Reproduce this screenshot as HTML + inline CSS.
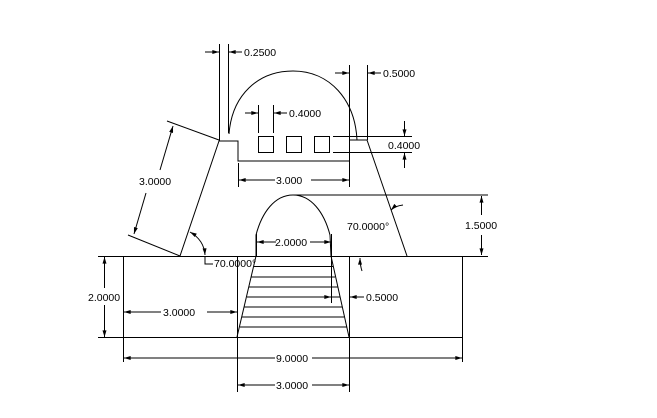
<!DOCTYPE html>
<html><head><meta charset="utf-8"><style>
html,body{margin:0;padding:0;background:#fff;}
svg{display:block;}
text{font-family:"Liberation Sans",Arial,sans-serif;font-size:10.5px;fill:#000;}
</style></head><body>
<svg width="657" height="418" viewBox="0 0 657 418" xmlns="http://www.w3.org/2000/svg">
<defs>
<marker id="a" viewBox="0 0 10 6" refX="10" refY="3" markerWidth="7" markerHeight="4" orient="auto-start-reverse" markerUnits="userSpaceOnUse"><path d="M0,0 L10,3 L0,6 z" fill="#000"/></marker>
</defs>
<g stroke="#000" stroke-width="1" fill="none">
<!-- top structure -->
<line x1="219.5" y1="44" x2="219.5" y2="141"/>
<line x1="228.5" y1="44" x2="228.5" y2="133"/>
<polyline points="180,256 219,141 238,141 238,161 349,161"/>
<line x1="349.5" y1="65" x2="349.5" y2="187"/>
<line x1="367.5" y1="65" x2="367.5" y2="140"/>
<polyline points="349,140 367,140 407,256"/>
<path d="M229,134 C232,95 258,71 293,71 C330,71 355,100 357,140"/>
<!-- squares -->
<rect x="258.5" y="136.5" width="15" height="16"/>
<rect x="286.5" y="136.5" width="15" height="16"/>
<rect x="314.5" y="136.5" width="15" height="16"/>
<!-- 0.4000 top -->
<line x1="258.5" y1="105" x2="258.5" y2="133"/>
<line x1="273.5" y1="105" x2="273.5" y2="133"/>
<line x1="245" y1="113" x2="258" y2="113" marker-end="url(#a)"/>
<line x1="287" y1="113" x2="274" y2="113" marker-end="url(#a)"/>
<!-- 0.4000 right -->
<line x1="333" y1="136.5" x2="412" y2="136.5"/>
<line x1="333" y1="152.5" x2="412" y2="152.5"/>
<line x1="404.5" y1="121" x2="404.5" y2="136" marker-end="url(#a)"/>
<line x1="404.5" y1="168" x2="404.5" y2="153" marker-end="url(#a)"/>
<!-- 0.5000 -->
<line x1="335" y1="73" x2="349" y2="73" marker-end="url(#a)"/>
<line x1="381" y1="73" x2="368" y2="73" marker-end="url(#a)"/>
<!-- 0.2500 -->
<line x1="205" y1="52" x2="219" y2="52" marker-end="url(#a)"/>
<line x1="242" y1="52" x2="229" y2="52" marker-end="url(#a)"/>
<!-- 3.000 -->
<line x1="238.5" y1="163" x2="238.5" y2="187"/>
<line x1="275" y1="180" x2="239" y2="180" marker-end="url(#a)"/>
<line x1="311" y1="180" x2="349" y2="180" marker-end="url(#a)"/>
<!-- 3.0000 slanted -->
<line x1="167" y1="121" x2="219" y2="140"/>
<line x1="128" y1="235" x2="180" y2="256"/>
<line x1="160" y1="170" x2="173" y2="126" marker-end="url(#a)"/>
<line x1="146" y1="193" x2="134" y2="234" marker-end="url(#a)"/>
<!-- left 70 -->
<path d="M190,232 Q204,240 205,255" marker-start="url(#a)" marker-end="url(#a)"/>
<polyline points="205,256 205,264 213,264"/>
<!-- base -->
<line x1="98" y1="256.5" x2="488" y2="256.5"/>
<line x1="98" y1="337.5" x2="462" y2="337.5"/>
<line x1="123.5" y1="256" x2="123.5" y2="362"/>
<line x1="462.5" y1="256" x2="462.5" y2="362"/>
<line x1="237.5" y1="256" x2="237.5" y2="392"/>
<line x1="349.5" y1="256" x2="349.5" y2="392"/>
<polyline points="237,337 256,256"/>
<polyline points="349,337 331,256"/>
<path d="M256,256 L256,235 C262,212 275,195 293,195 C311,195 324,212 330,235 L331,256"/>
<line x1="293" y1="195" x2="488" y2="195"/>
<!-- hatch -->
<line x1="254" y1="266.5" x2="333" y2="266.5"/>
<line x1="251" y1="277" x2="335" y2="277"/>
<line x1="249" y1="287" x2="338" y2="287"/>
<line x1="247" y1="297" x2="340" y2="297"/>
<line x1="244" y1="307" x2="342" y2="307"/>
<line x1="242" y1="317" x2="344" y2="317"/>
<line x1="240" y1="327" x2="347" y2="327"/>
<!-- 2.0000 mid -->
<line x1="256.5" y1="234" x2="256.5" y2="256"/>
<line x1="331.5" y1="234" x2="331.5" y2="256"/>
<line x1="276" y1="242" x2="257" y2="242" marker-end="url(#a)"/>
<line x1="310" y1="242" x2="331" y2="242" marker-end="url(#a)"/>
<!-- 1.5000 -->
<line x1="481.5" y1="215" x2="481.5" y2="196" marker-end="url(#a)"/>
<line x1="481.5" y1="235" x2="481.5" y2="255" marker-end="url(#a)"/>
<!-- right 70 -->
<path d="M403,205 Q395,206 391,210" marker-end="url(#a)"/>
<path d="M362,271 Q360,265 360,258" marker-end="url(#a)"/>
<!-- 0.5000 lower -->
<line x1="331.5" y1="256" x2="331.5" y2="303"/>
<line x1="322" y1="297" x2="331" y2="297" marker-end="url(#a)"/>
<line x1="364" y1="297" x2="350" y2="297" marker-end="url(#a)"/>
<!-- 2.0000 left -->
<line x1="104.5" y1="288" x2="104.5" y2="257" marker-end="url(#a)"/>
<line x1="104.5" y1="305" x2="104.5" y2="337" marker-end="url(#a)"/>
<!-- 3.0000 left -->
<line x1="161" y1="312" x2="124" y2="312" marker-end="url(#a)"/>
<line x1="207" y1="312" x2="237" y2="312" marker-end="url(#a)"/>
<!-- 9.0000 -->
<line x1="275" y1="358" x2="124" y2="358" marker-end="url(#a)"/>
<line x1="312" y1="358" x2="462" y2="358" marker-end="url(#a)"/>
<!-- 3.0000 bottom -->
<line x1="275" y1="385" x2="238" y2="385" marker-end="url(#a)"/>
<line x1="312" y1="385" x2="349" y2="385" marker-end="url(#a)"/>
</g>
<text x="244" y="56">0.2500</text>
<text x="383" y="77">0.5000</text>
<text x="289" y="117">0.4000</text>
<text x="388" y="149">0.4000</text>
<text x="276" y="184">3.000</text>
<text x="139" y="185">3.0000</text>
<text x="275" y="246">2.0000</text>
<text x="347" y="230">70.0000°</text>
<text x="465" y="229">1.5000</text>
<text x="214" y="267">70.0000°</text>
<text x="366" y="301">0.5000</text>
<text x="88" y="301">2.0000</text>
<text x="163" y="316">3.0000</text>
<text x="276" y="362">9.0000</text>
<text x="276" y="389">3.0000</text>
</svg>
</body></html>
